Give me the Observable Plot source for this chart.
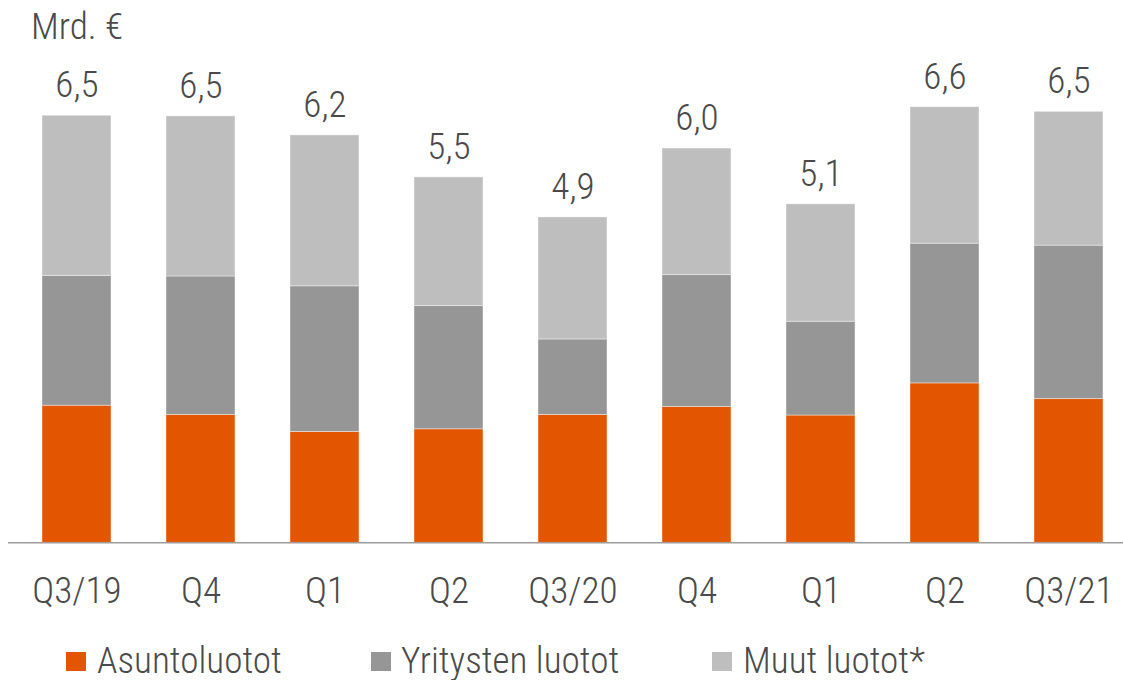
<!DOCTYPE html>
<html>
<head>
<meta charset="utf-8">
<script src="https://cdn.jsdelivr.net/npm/d3@7"></script>
<script src="https://cdn.jsdelivr.net/npm/@observablehq/plot@0.6"></script>
<style>
  html, body { margin: 0; padding: 0; background: #fff; }
  body { width: 1123px; height: 680px; position: relative; overflow: hidden; color: #555; }
  #head { position: relative; height: 50px; }
  #unit { position: absolute; left: 31px; white-space: nowrap; }
  #chart { position: relative; height: 580px; }
  #legend { position: relative; height: 50px; }
  .sw { position: absolute; top: 22px; width: 20px; height: 19px; }
  .lt { position: absolute; white-space: nowrap; }
</style>
</head>
<body>
<div id="head"><div id="unit">Mrd. €</div></div>
<div id="chart"></div>
<div id="legend"></div>
<script>
const categories = ["Q3/19", "Q4", "Q1", "Q2", "Q3/20", "Q4", "Q1", "Q2", "Q3/21"];
const asuntoluotot = [2.09, 1.95, 1.69, 1.73, 1.95, 2.07, 1.94, 2.43, 2.19];
const yritystenLuotot = [1.98, 2.11, 2.22, 1.88, 1.15, 2.01, 1.43, 2.13, 2.34];
const muutLuotot = [2.44, 2.44, 2.30, 1.96, 1.86, 1.93, 1.79, 2.08, 2.04];
const totalLabels = ["6,5", "6,5", "6,2", "5,5", "4,9", "6,0", "5,1", "6,6", "6,5"];
const seriesNames = ["Asuntoluotot", "Yritysten luotot", "Muut luotot*"];
const seriesColors = ["#E35500", "#969696", "#BEBEBE"];

// pick a narrow font that is actually installed
const ctx = document.createElement("canvas").getContext("2d");
function width(fam, w) { ctx.font = `${w} 40px ${fam}`; return ctx.measureText("Asuntoluotot Mrd 0123").width; }
function has(name) {
  return ["monospace", "serif"].some(b => width(`"${name}", ${b}`, 400) !== width(b, 400));
}
let fam, weight, fs;
if (has("Roboto Condensed")) { fam = '"Roboto Condensed"'; weight = 300; }
else if (has("Liberation Sans Narrow")) { fam = '"Liberation Sans Narrow"'; weight = 400; }
else { fam = '"DejaVu Sans Condensed"'; weight = 400; }
// size so that "Asuntoluotot" is ~185px wide, capped between 33 and 38
ctx.font = `${weight} 37px ${fam}, sans-serif`;
const w37 = ctx.measureText("Asuntoluotot").width;
fs = Math.max(33.5, Math.min(38, 37 * 185 / w37));
const font = `${fam}, "DejaVu Sans Condensed", sans-serif`;
const textColor = weight === 300 ? "#4a4a4a" : "#5a5a5a";

const seriesValues = [asuntoluotot, yritystenLuotot, muutLuotot];
const data = [];
categories.forEach((c, i) => {
  seriesNames.forEach((s, k) => data.push({i, series: s, value: seriesValues[k][i]}));
});
const totals = categories.map((c, i) => ({
  i,
  total: asuntoluotot[i] + yritystenLuotot[i] + muutLuotot[i],
  label: totalLabels[i]
}));

const chart = Plot.plot({
  width: 1123,
  height: 580,
  marginTop: 33.1,
  marginBottom: 87.7,
  marginLeft: 8,
  marginRight: 0,
  x: {domain: d3.range(categories.length), paddingInner: 0.447, paddingOuter: 0.1907, align: 0.616},
  y: {domain: [0, 7], axis: null},
  color: {domain: seriesNames, range: seriesColors},
  style: {fontFamily: font, fontSize: fs + "px", fontWeight: weight, color: textColor, background: "white", overflow: "visible"},
  marks: [
    Plot.barY(data, {x: "i", y: "value", fill: "series", stroke: "#fff", strokeWidth: 0.8, strokeOpacity: 0.5}),
    Plot.ruleY([0], {stroke: "#9c9c9c", strokeWidth: 1.5}),
    Plot.axisX({tickSize: 0, tickPadding: 60.5 - 0.71 * fs, tickFormat: i => categories[i], fontSize: fs, fill: textColor, label: null}),
    Plot.text(totals, {x: "i", y: "total", text: "label", dy: -18.7 - 0.32 * fs, fontSize: fs, fill: textColor})
  ]
});
document.getElementById("chart").appendChild(chart);

// HTML text: baseline placement with line-height = font size
function place(el, baselineY) {
  el.style.fontFamily = font;
  el.style.fontWeight = weight;
  el.style.fontSize = fs + "px";
  el.style.lineHeight = fs + "px";
  el.style.color = textColor;
  el.style.top = "0px";
  const probe = document.createElement("span");
  probe.style.display = "inline-block";
  probe.style.width = "0"; probe.style.height = "0";
  probe.style.verticalAlign = "baseline";
  el.appendChild(probe);
  const off = probe.getBoundingClientRect().top - el.getBoundingClientRect().top;
  el.removeChild(probe);
  el.style.top = (baselineY - off) + "px";
}
place(document.getElementById("unit"), 39.3);

const legend = document.getElementById("legend");
const swX = [66, 371, 712];
const txX = [97, 401, 743];
seriesNames.forEach((s, k) => {
  const sw = document.createElement("div");
  sw.className = "sw";
  sw.style.left = swX[k] + "px";
  sw.style.background = seriesColors[k];
  legend.appendChild(sw);
  const t = document.createElement("div");
  t.className = "lt";
  t.style.left = txX[k] + "px";
  t.textContent = s;
  legend.appendChild(t);
  place(t, 43);
});
</script>
</body>
</html>
